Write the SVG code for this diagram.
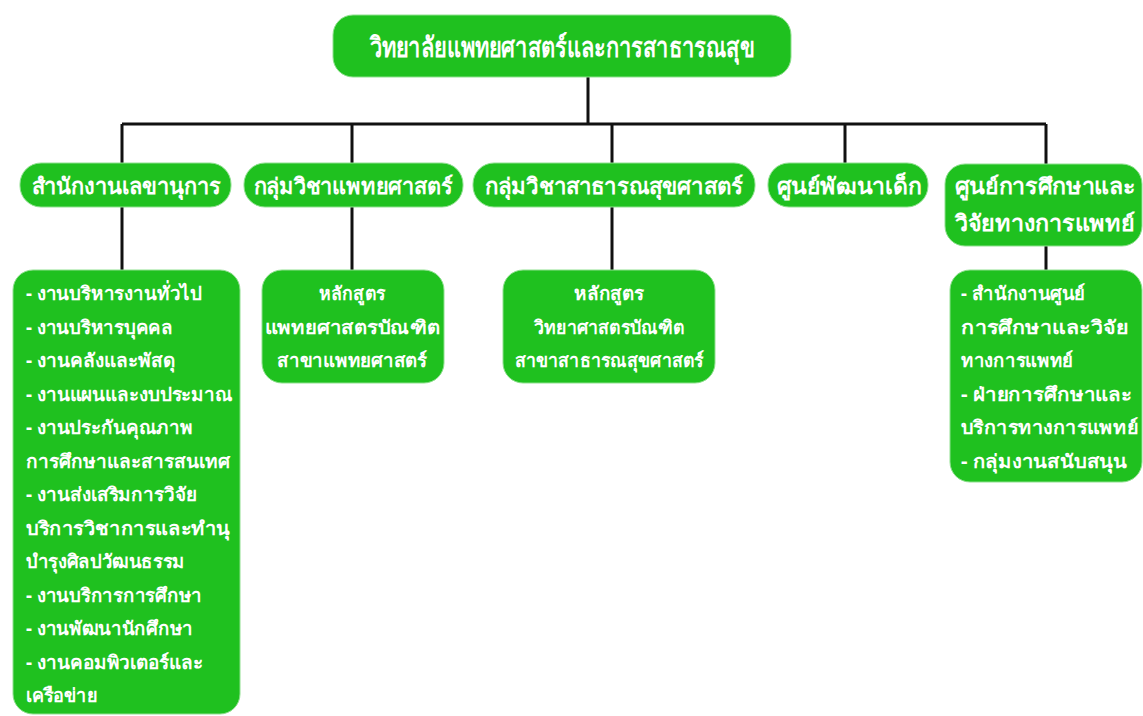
<svg xmlns="http://www.w3.org/2000/svg" width="1143" height="716" viewBox="0 0 1143 716">
<style>
.box{fill:#1fc11f;stroke:#8fe08f;stroke-width:1}
.t{font-family:"Noto Sans","DejaVu Sans",sans-serif;font-weight:bold;fill:#fff;dominant-baseline:central}
.t1{font-size:28px}
.t2{font-size:22px}
.t3{font-size:19px}
.c{text-anchor:middle}
.ln{stroke:#111;stroke-width:3;fill:none}
</style>
<rect width="1143" height="716" fill="#fff"/>
<g id="connectors">
<path class="ln" d="M588 77V124M122 124H1046M122 124V163M352 124V163M612 124V163M845 124V163M1046 124V164"/>
<path class="ln" d="M122 207V270M352 207V270M612 207V270M1046 246V270"/>
</g>
<g id="root">
<rect class="box" x="333" y="15" width="458" height="62" rx="20"/>
<text class="t t1 c" x="562" y="46" textLength="385" lengthAdjust="spacingAndGlyphs">วิทยาลัยแพทยศาสตร์และการสาธารณสุข</text>
</g>
<g id="n-secretary">
<rect class="box" x="20" y="163" width="211" height="44" rx="21"/>
<text class="t t2 c" x="126" y="185" textLength="189" lengthAdjust="spacingAndGlyphs">สำนักงานเลขานุการ</text>
</g>
<g id="n-medicine">
<rect class="box" x="244" y="163" width="219" height="44" rx="21"/>
<text class="t t2 c" x="353" y="185" textLength="199" lengthAdjust="spacingAndGlyphs">กลุ่มวิชาแพทยศาสตร์</text>
</g>
<g id="n-publichealth">
<rect class="box" x="473" y="163" width="282" height="44" rx="21"/>
<text class="t t2 c" x="614" y="185" textLength="258" lengthAdjust="spacingAndGlyphs">กลุ่มวิชาสาธารณสุขศาสตร์</text>
</g>
<g id="n-child">
<rect class="box" x="768" y="163" width="160" height="44" rx="21"/>
<text class="t t2 c" x="849" y="185" textLength="145" lengthAdjust="spacingAndGlyphs">ศูนย์พัฒนาเด็ก</text>
</g>
<g id="n-medcenter">
<rect class="box" x="945" y="164" width="197" height="82" rx="20"/>
<text class="t t2 c" x="1045" y="185" textLength="181" lengthAdjust="spacingAndGlyphs">ศูนย์การศึกษาและ</text>
<text class="t t2 c" x="1045" y="222" textLength="180" lengthAdjust="spacingAndGlyphs">วิจัยทางการแพทย์</text>
</g>
<g id="n-secretary-units">
<rect class="box" x="13" y="270" width="227" height="444" rx="20"/>
<text class="t t3" x="26" y="293" textLength="176" lengthAdjust="spacingAndGlyphs">- งานบริหารงานทั่วไป</text>
<text class="t t3" x="26" y="326.5" textLength="147" lengthAdjust="spacingAndGlyphs">- งานบริหารบุคคล</text>
<text class="t t3" x="26" y="360" textLength="149" lengthAdjust="spacingAndGlyphs">- งานคลังและพัสดุ</text>
<text class="t t3" x="26" y="393.5" textLength="207" lengthAdjust="spacingAndGlyphs">- งานแผนและงบประมาณ</text>
<text class="t t3" x="26" y="427" textLength="167" lengthAdjust="spacingAndGlyphs">- งานประกันคุณภาพ</text>
<text class="t t3" x="26" y="460.5" textLength="204" lengthAdjust="spacingAndGlyphs">การศึกษาและสารสนเทศ</text>
<text class="t t3" x="26" y="494" textLength="171" lengthAdjust="spacingAndGlyphs">- งานส่งเสริมการวิจัย</text>
<text class="t t3" x="26" y="527.5" textLength="204" lengthAdjust="spacingAndGlyphs">บริการวิชาการและทำนุ</text>
<text class="t t3" x="26" y="561" textLength="159" lengthAdjust="spacingAndGlyphs">บำรุงศิลปวัฒนธรรม</text>
<text class="t t3" x="26" y="594.5" textLength="176" lengthAdjust="spacingAndGlyphs">- งานบริการการศึกษา</text>
<text class="t t3" x="26" y="628" textLength="167" lengthAdjust="spacingAndGlyphs">- งานพัฒนานักศึกษา</text>
<text class="t t3" x="26" y="661.5" textLength="177" lengthAdjust="spacingAndGlyphs">- งานคอมพิวเตอร์และ</text>
<text class="t t3" x="26" y="695" textLength="71" lengthAdjust="spacingAndGlyphs">เครือข่าย</text>
</g>
<g id="n-md-program">
<rect class="box" x="262" y="270" width="182" height="113" rx="20"/>
<text class="t t3 c" x="352" y="293" textLength="66" lengthAdjust="spacingAndGlyphs">หลักสูตร</text>
<text class="t t3 c" x="352" y="326.5" textLength="175" lengthAdjust="spacingAndGlyphs">แพทยศาสตรบัณฑิต</text>
<text class="t t3 c" x="352" y="360" textLength="150" lengthAdjust="spacingAndGlyphs">สาขาแพทยศาสตร์</text>
</g>
<g id="n-ph-program">
<rect class="box" x="503" y="270" width="212" height="113" rx="20"/>
<text class="t t3 c" x="609" y="293" textLength="70" lengthAdjust="spacingAndGlyphs">หลักสูตร</text>
<text class="t t3 c" x="609" y="326.5" textLength="150" lengthAdjust="spacingAndGlyphs">วิทยาศาสตรบัณฑิต</text>
<text class="t t3 c" x="609" y="360" textLength="189" lengthAdjust="spacingAndGlyphs">สาขาสาธารณสุขศาสตร์</text>
</g>
<g id="n-medcenter-units">
<rect class="box" x="950" y="270" width="192" height="212" rx="20"/>
<text class="t t3" x="961" y="293" textLength="124" lengthAdjust="spacingAndGlyphs">- สำนักงานศูนย์</text>
<text class="t t3" x="961" y="326.5" textLength="167" lengthAdjust="spacingAndGlyphs">การศึกษาและวิจัย</text>
<text class="t t3" x="961" y="360" textLength="112" lengthAdjust="spacingAndGlyphs">ทางการแพทย์</text>
<text class="t t3" x="961" y="393.5" textLength="171" lengthAdjust="spacingAndGlyphs">- ฝ่ายการศึกษาและ</text>
<text class="t t3" x="961" y="427" textLength="177" lengthAdjust="spacingAndGlyphs">บริการทางการแพทย์</text>
<text class="t t3" x="961" y="460.5" textLength="166" lengthAdjust="spacingAndGlyphs">- กลุ่มงานสนับสนุน</text>
</g>
</svg>
